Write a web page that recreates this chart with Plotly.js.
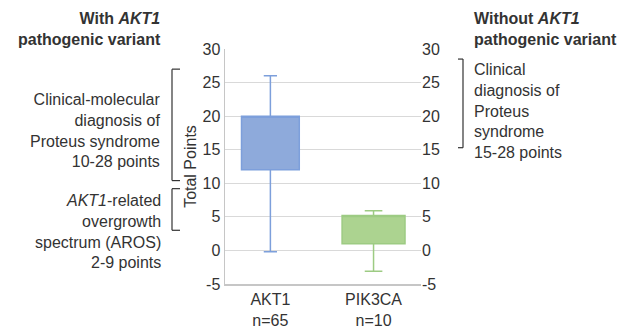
<!DOCTYPE html>
<html>
<head>
<meta charset="utf-8">
<script src="https://cdn.plot.ly/plotly-3.0.1.min.js"></script>
<style>
html,body{margin:0;padding:0;background:#fff;}
#chart{width:627px;height:328px;}
</style>
</head>
<body>
<div id="chart"></div>
<script>
// ---- data ----
const categories = ['AKT1', 'PIK3CA'];
const sampleSizes = ['n=65', 'n=10'];
const q1Values = [12, 1];
const q3Values = [20, 5.2];
const lowerWhiskers = [-0.2, -3.1];
const upperWhiskers = [26, 5.9];
const yTickValues = [-5, 0, 5, 10, 15, 20, 25, 30];
const yTickLabels = ['-5', '0', '5', '10', '15', '20', '25', '30'];

// ---- side notes (range in points) ----
const leftBracketTop = [27, 9.2];
const leftBracketBottom = [10.4, 3];
const rightBracketTop = [28.5];
const rightBracketBottom = [15.3];

const fills = ['#8eaadb', '#acd390'];
const lines = ['#7d9fdb', '#9dcb83'];
const boxWidths = [0.56, 0.61];
const capWidths = [0.23, 0.28];

const W = 627, H = 328;
const mL = 225, mR = 206, mT = 49, mB = 44;
const plotW = W - mL - mR, plotH = H - mT - mB;
const px = x => (x - mL) / plotW;
const py = y => (H - mB - y) / plotH;

const FONT = 'Liberation Sans, Arial, Helvetica, sans-serif';
const TXT = '#333333';

const traces = categories.map((c, i) => ({
  type: 'box',
  x: [c],
  q1: [q1Values[i]],
  median: [q3Values[i]],
  q3: [q3Values[i]],
  lowerfence: [lowerWhiskers[i]],
  upperfence: [upperWhiskers[i]],
  width: boxWidths[i],
  whiskerwidth: capWidths[i],
  fillcolor: fills[i],
  line: {color: lines[i], width: 1.5},
  boxpoints: false,
  hoverinfo: 'skip',
  showlegend: false
}));
traces.push({
  type: 'scatter', x: [categories[0]], y: [10], yaxis: 'y2',
  mode: 'markers', marker: {opacity: 0}, hoverinfo: 'skip', showlegend: false
});

const shapes = [];
function bracket(xv, xs, yTop, yBot) {
  const s = {type: 'line', xref: 'paper', yref: 'y', line: {color: '#333', width: 1.2}};
  shapes.push(Object.assign({}, s, {x0: xv, x1: xv, y0: yTop, y1: yBot}));
  shapes.push(Object.assign({}, s, {x0: xv, x1: xs, y0: yTop, y1: yTop}));
  shapes.push(Object.assign({}, s, {x0: xv, x1: xs, y0: yBot, y1: yBot}));
}
leftBracketTop.forEach((t, i) => bracket(px(172), px(180), t, leftBracketBottom[i]));
rightBracketTop.forEach((t, i) => bracket(px(463), px(458), t, rightBracketBottom[i]));

function note(text, x, y, anchor, bold) {
  return {
    text: text, xref: 'paper', yref: 'paper', x: px(x), y: py(y),
    xanchor: anchor, yanchor: 'middle', align: anchor, showarrow: false,
    font: {family: FONT, size: 16, color: TXT}
  };
}
const annotations = [
  note('<b>With <i>AKT1</i></b><br><b>pathogenic variant</b>', 163, 29, 'right'),
  note('Clinical-molecular<br>diagnosis of<br>Proteus syndrome<br>10-28 points', 163, 130, 'right'),
  note('<i>AKT1</i>-related<br>overgrowth<br>spectrum (AROS)<br>2-9 points', 163, 231, 'right'),
  note('<b>Without <i>AKT1</i></b><br><b>pathogenic variant</b>', 472, 29, 'left'),
  note('Clinical<br>diagnosis of<br>Proteus<br>syndrome<br>15-28 points', 472, 111, 'left')
];

const yBase = {
  range: [-5, 30], tickvals: yTickValues, ticktext: yTickLabels,
  tickfont: {family: FONT, size: 16, color: TXT},
  zeroline: false, fixedrange: true
};

const layout = {
  width: W, height: H,
  margin: {l: mL, r: mR, t: mT, b: mB, pad: 0},
  paper_bgcolor: '#fff', plot_bgcolor: '#fff',
  showlegend: false,
  boxmode: 'overlay',
  font: {family: FONT, size: 16, color: TXT},
  xaxis: {
    type: 'category', range: [-0.44, 1.46],
    tickvals: categories,
    ticktext: categories.map((c, i) => c + '<br>' + sampleSizes[i]),
    tickfont: {family: FONT, size: 16, color: TXT},
    showline: true, linecolor: '#c6c6c6', linewidth: 1.5,
    showgrid: false, ticks: '', fixedrange: true
  },
  yaxis: Object.assign({}, yBase, {
    title: {text: 'Total Points', font: {family: FONT, size: 16, color: TXT}, standoff: 2},
    showline: true, linecolor: '#c6c6c6', linewidth: 1.5,
    showgrid: true, gridcolor: '#d9d9d9', gridwidth: 1.2, ticks: ''
  }),
  yaxis2: Object.assign({}, yBase, {
    overlaying: 'y', side: 'right', showgrid: false, showline: false, ticks: ''
  }),
  shapes: shapes,
  annotations: annotations
};

Plotly.newPlot('chart', traces, layout, {staticPlot: true, displayModeBar: false});
</script>
</body>
</html>
